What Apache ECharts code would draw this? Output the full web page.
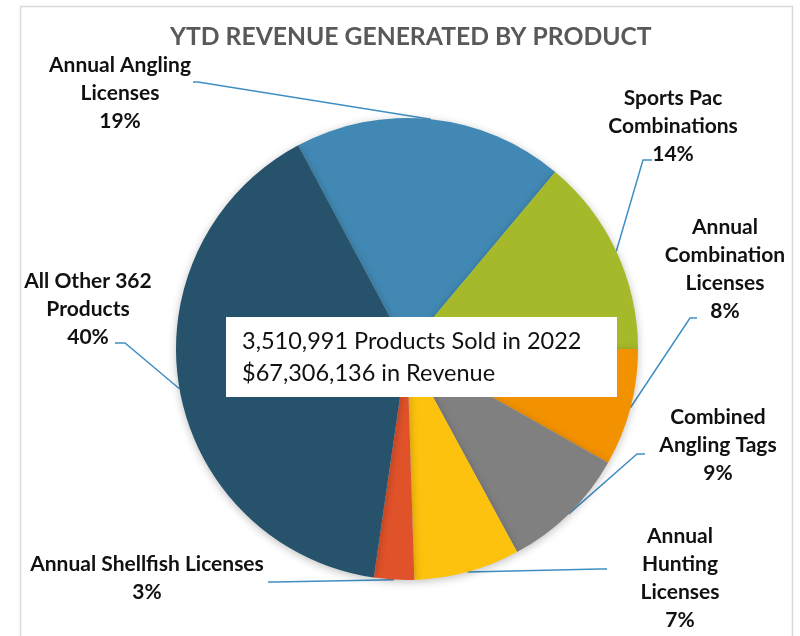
<!DOCTYPE html>
<html>
<head>
<meta charset="utf-8">
<title>YTD Revenue Generated by Product</title>
<script src="https://cdn.jsdelivr.net/npm/echarts@6/dist/echarts.min.js"></script>
<style>
  html, body { margin: 0; padding: 0; background: #fff; }
  #main { width: 800px; height: 636px; }
</style>
</head>
<body>
<div id="main"></div>
<script>
// products, clockwise starting with the Annual Angling slice
var products = ['Annual Angling Licenses', 'Sports Pac Combinations', 'Annual Combination Licenses',
  'Combined Angling Tags', 'Annual Hunting Licenses', 'Annual Shellfish Licenses', 'All Other 362 Products'];
// label text, broken the way the original chart breaks it
var labelText = ['Annual Angling\nLicenses', 'Sports Pac\nCombinations', 'Annual\nCombination\nLicenses',
  'Combined\nAngling Tags', 'Annual\nHunting\nLicenses', 'Annual Shellfish Licenses', 'All Other 362\nProducts'];
// share of YTD revenue (%)
var revenueShare = [18.9, 13.9, 8.2, 8.9, 7.4, 2.8, 39.9];
var sliceColors = ['#4189b4', '#a5b92a', '#f39200', '#808080', '#fdc20e', '#e0522a', '#26536b'];
var summaryLines = ['3,510,991 Products Sold in 2022', '$67,306,136 in Revenue'];

// centre of each label block, and where its leader line bends and ends
var labelPos = [[120, 93], [673, 126], [725, 269], [718, 445], [680, 578], [147, 578], [88, 309]];
var leaderBend = [[198, 82], [643, 160], [690, 318], [637, 454], [600, 569], [275, 582], [125, 343]];
var leaderEnd = [[193, 82], [652, 160], [697, 318], [645, 454], [607, 569], [268, 582], [115, 343]];

var pieCenter = [407, 349];
var pieRadius = 231;
var pieStart = 118.1;

var myChart = echarts.init(document.getElementById('main'));

var pieData = [];
for (var i = 0; i < products.length; i++) {
  pieData.push({ name: products[i], value: revenueShare[i], itemStyle: { color: sliceColors[i] } });
}

// fallback anchor on the rim (mid angle of the slice) if echarts gives no default line
function rimPoint(idx) {
  var total = 0, before = 0;
  for (var k = 0; k < revenueShare.length; k++) {
    total += revenueShare[k];
    if (k < idx) before += revenueShare[k];
  }
  var a = (pieStart - (before + revenueShare[idx] / 2) / total * 360) * Math.PI / 180;
  return [pieCenter[0] + pieRadius * Math.cos(a), pieCenter[1] - pieRadius * Math.sin(a)];
}

var option = {
  animation: false,
  title: {
    text: 'YTD REVENUE GENERATED BY PRODUCT',
    left: 170,
    top: 25,
    padding: 0,
    textStyle: { fontFamily: 'Lato', fontWeight: 'bold', fontSize: 24.7, color: '#595959' }
  },
  graphic: [
    {
      type: 'rect', z: 0, silent: true,
      shape: { x: 20.5, y: 6.5, width: 772, height: 660 },
      style: { fill: 'none', stroke: '#d9d9d9', lineWidth: 1.5 }
    },
    {
      type: 'rect', z: 100, silent: true,
      shape: { x: 226, y: 317, width: 391, height: 80 },
      style: { fill: '#ffffff' }
    },
    {
      type: 'text', z: 101, silent: true,
      x: 242, y: 357,
      style: {
        text: summaryLines.join('\n'),
        font: '23.5px Lato',
        fill: '#111111',
        lineHeight: 32,
        verticalAlign: 'middle'
      }
    }
  ],
  series: [{
    type: 'pie',
    center: pieCenter,
    radius: pieRadius,
    startAngle: pieStart,
    clockwise: true,
    avoidLabelOverlap: false,
    data: pieData,
    itemStyle: { shadowBlur: 8, shadowColor: 'rgba(0,0,0,0.25)', shadowOffsetY: 2 },
    emphasis: { scale: false },
    label: {
      show: true,
      position: 'outside',
      formatter: function (p) {
        return labelText[p.dataIndex] + '\n' + Math.round(p.percent) + '%';
      },
      fontFamily: 'Lato',
      fontWeight: 'bold',
      fontSize: 21,
      lineHeight: 28,
      color: '#111111'
    },
    labelLine: {
      show: true,
      lineStyle: { color: '#3f8fc4', width: 1.5 }
    },
    labelLayout: function (params) {
      var i = params.dataIndex;
      var start = params.labelLinePoints ? params.labelLinePoints[0] : rimPoint(i);
      return {
        x: labelPos[i][0],
        y: labelPos[i][1],
        align: 'center',
        verticalAlign: 'middle',
        labelLinePoints: [start, leaderBend[i], leaderEnd[i]]
      };
    }
  }]
};

myChart.setOption(option);
</script>
</body>
</html>
